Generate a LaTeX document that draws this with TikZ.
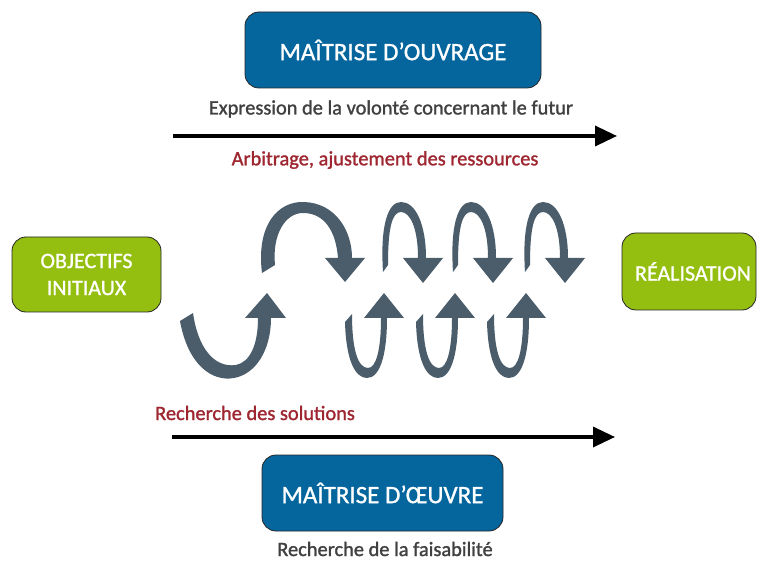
\documentclass[tikz,border=0pt]{standalone}
\usepackage{fontspec}
\setmainfont{Carlito}
\newfontfamily\medfont[FakeBold=1.3]{Carlito}
\newfontfamily\boxfont[FakeBold=1.0]{Carlito}
\usetikzlibrary{arrows.meta}

\definecolor{moblue}{HTML}{05669E}
\definecolor{mogreen}{HTML}{95BF10}
\definecolor{mored}{HTML}{9E2630}
\definecolor{motext}{HTML}{404040}
\definecolor{moslate}{HTML}{4B5D6B}

\tikzset{
  bluebox/.style={draw=black!85, line width=0.8pt, fill=moblue, rounded corners=14pt,
    text=white, font=\boxfont\fontsize{25}{27}\selectfont, inner sep=0pt, align=center},
  greenbox/.style={draw=black!85, line width=0.8pt, fill=mogreen, rounded corners=14pt,
    text=white, font=\boxfont\fontsize{22}{27}\selectfont, inner sep=0pt, align=center},
  caption/.style={text=motext, font=\medfont\fontsize{20.4}{22}\selectfont, inner sep=0pt},
  redcaption/.style={text=mored, font=\medfont\fontsize{20.4}{22}\selectfont, inner sep=0pt},
  timeline/.style={line width=3.5pt, -{Triangle[length=22pt,width=20pt]}},
  curl/.style={fill=moslate, draw=none}
}

\begin{document}
\begin{tikzpicture}[x=1pt,y=-1pt]
\useasboundingbox (0,0) rectangle (758,561);

% boxes
\node[bluebox, minimum width=296pt, minimum height=76pt] (moa) at (393,50) {MAÎTRISE D’OUVRAGE};
\node[bluebox, minimum width=241pt, minimum height=76pt] (moe) at (382.5,493) {MAÎTRISE D’ŒUVRE};
\node[greenbox, minimum width=149pt, minimum height=75pt] (obj) at (86.5,274.5) {OBJECTIFS\\INITIAUX};
\node[greenbox, minimum width=134pt, minimum height=77pt] (real) at (689,271.5) {\hspace*{8pt}RÉALISATION};

% captions
\node[caption] (expr) at (391,109) {Expression de la volonté concernant le futur};
\node[redcaption] (arb) at (385,160) {Arbitrage, ajustement des ressources};
\node[redcaption, anchor=west] (sol) at (155,413) {Recherche des solutions};
\node[caption] (fais) at (385,549) {Recherche de la faisabilité};

% time lines
\coordinate (topL) at (173,136);
\coordinate (topR) at (617,136);
\coordinate (botL) at (172,437);
\coordinate (botR) at (615,437);
\draw[timeline] (topL) -- (topR);
\draw[timeline] (botL) -- (botR);

% first loop, rising from below
\fill[curl] (180,321) .. controls (188,365) and (212,382) .. (234,378)
  .. controls (256,374) and (271,350) .. (271,318)
  -- (286,318) -- (267,293) -- (245,318) -- (258,318)
  .. controls (258,345) and (250,362) .. (236,365)
  .. controls (214,368) and (198,348) .. (193,313) -- cycle;

% first loop, coming over the top
\fill[curl] (262,273) .. controls (256,225) and (278,201) .. (304,202)
  .. controls (335,203) and (352,230) .. (352,258)
  -- (365,258) -- (345,282) -- (325,258) -- (338,258)
  .. controls (336,232) and (325,213) .. (303,213)
  .. controls (285,213) and (272,235) .. (275,265) -- cycle;

% smaller loops over the top
\foreach \dx in {0,70,142}{
  \begin{scope}[xshift=\dx pt]
  \fill[curl] (383,272) .. controls (380,225) and (388,202) .. (401,202)
    .. controls (416,202) and (426,225) .. (426,258)
    -- (443,258) -- (423,283) -- (403,258) -- (418,258)
    .. controls (418,228) and (410,212) .. (401,212)
    .. controls (392,212) and (388,228) .. (388,265) -- cycle;
  \end{scope}
}

% smaller loops from below
\foreach \dx in {0,71,142}{
  \begin{scope}[xshift=\dx pt]
  \fill[curl] (345,322) .. controls (346,360) and (355,378) .. (367,378)
    .. controls (380,378) and (387,355) .. (387,318)
    -- (404,318) -- (384,293) -- (364,318) -- (381,318)
    .. controls (381,350) and (376,368) .. (368,368)
    .. controls (358,368) and (352,350) .. (352,314) -- cycle;
  \end{scope}
}
\end{tikzpicture}
\end{document}
